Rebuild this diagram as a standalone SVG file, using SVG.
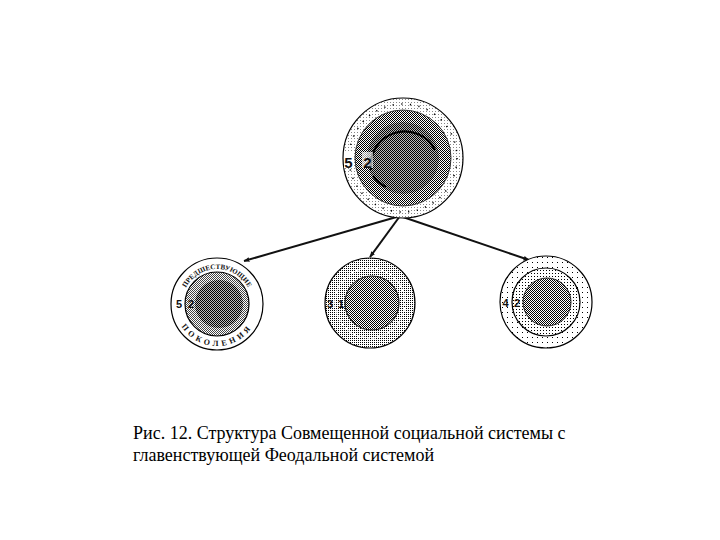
<svg xmlns="http://www.w3.org/2000/svg" width="720" height="540" viewBox="0 0 720 540">
<style>
.lbl{font-family:"Liberation Sans",Arial,sans-serif;font-weight:bold;fill:#111}
.arc{font-weight:bold;fill:#111}
.edge{stroke:#000;stroke-width:1.2}
.conn{stroke:#111;stroke-width:2;fill:none}
</style>
<defs>
<pattern id="chk" width="2" height="2" patternUnits="userSpaceOnUse"><rect width="2" height="2" fill="#fff"/><rect width="1" height="1" fill="#000"/><rect x="1" y="1" width="1" height="1" fill="#000"/></pattern>
<pattern id="chkD" width="2" height="2" patternUnits="userSpaceOnUse"><rect width="2" height="2" fill="#bbb"/><rect width="1" height="1" fill="#000"/><rect x="1" y="1" width="1" height="1" fill="#000"/></pattern>
<pattern id="chkG" width="2" height="2" patternUnits="userSpaceOnUse"><rect width="2" height="2" fill="#fff"/><rect width="1" height="1" fill="#444"/><rect x="1" y="1" width="1" height="1" fill="#444"/></pattern>
<pattern id="stip" width="2" height="2" patternUnits="userSpaceOnUse"><rect width="2" height="2" fill="#fff"/><rect width="1" height="1" fill="#000"/></pattern>
<pattern id="stipM" width="3" height="3" patternUnits="userSpaceOnUse"><rect width="3" height="3" fill="#fff"/><rect width="1" height="1" fill="#000"/></pattern>
<pattern id="stipL" width="3" height="3" patternUnits="userSpaceOnUse"><rect width="3" height="3" fill="#fff"/><rect width="1" height="1" fill="#888"/></pattern>
<pattern id="sparse" width="5" height="5" patternUnits="userSpaceOnUse"><rect width="5" height="5" fill="#fff"/><rect x="2" y="2" width="1" height="1" fill="#000"/></pattern>
<marker id="ah" viewBox="0 0 10 10" refX="9" refY="5" markerWidth="6" markerHeight="6" orient="auto" markerUnits="userSpaceOnUse"><path d="M0,1 L10,5 L0,9 Z" fill="#111"/></marker>
<path id="topArc" d="M 182,304 A 35 35 0 0 1 252,304"/>
<path id="botArc" d="M 175,304 A 42 42 0 0 0 259,304"/>
</defs>

<g id="connectors">
<line class="conn" x1="400" y1="216" x2="244" y2="261" marker-end="url(#ah)"/>
<line class="conn" x1="400" y1="216" x2="370" y2="257" marker-end="url(#ah)"/>
<line class="conn" x1="400" y1="216" x2="529" y2="260" marker-end="url(#ah)"/>
</g>

<g id="node-top">
<circle cx="403" cy="158" r="60" fill="url(#stipL)" class="edge"/>
<circle cx="403" cy="158" r="54" fill="none" stroke="#000" stroke-width="1.6" stroke-dasharray="1.2 7.5"/>
<circle cx="403" cy="158" r="48" fill="url(#chk)" stroke="#333" stroke-width="1"/>
<circle cx="403" cy="158" r="36" fill="url(#chkD)"/>
<path d="M 371,170 A 34 34 0 0 1 435,150" fill="none" stroke="#000" stroke-width="2.2"/>
<path d="M 373,176 A 34 34 0 0 0 386,187" fill="none" stroke="#000" stroke-width="2.2"/>
<rect x="344" y="152" width="10" height="16" fill="#fff"/>
<text class="lbl" x="348.5" y="168" font-size="15" text-anchor="middle">5</text>
<rect x="362" y="152" width="11" height="16" fill="#fff" opacity="0.6"/>
<text class="lbl" x="367.5" y="168" font-size="15" text-anchor="middle">2</text>
</g>

<g id="node-left">
<circle cx="217" cy="304" r="46" fill="#fff" class="edge"/>
<circle cx="217" cy="304" r="32" fill="url(#chkG)" class="edge"/>
<circle cx="219" cy="304" r="24" fill="url(#chkD)"/>
<text class="arc" font-family="'Liberation Serif','DejaVu Serif',serif" font-size="7"><textPath href="#topArc" startOffset="50%" text-anchor="middle">ПРЕДШЕСТВУЮЩИЕ</textPath></text>
<text class="arc" font-family="'Liberation Serif','DejaVu Serif',serif" font-size="8" letter-spacing="3.5"><textPath href="#botArc" startOffset="50%" text-anchor="middle">ПОКОЛЕНИЯ</textPath></text>
<rect x="175" y="297" width="8" height="12" fill="#fff"/>
<text class="lbl" x="179" y="308" font-size="11" text-anchor="middle">5</text>
<text class="lbl" x="191" y="308" font-size="11" text-anchor="middle">2</text>
</g>

<g id="node-middle">
<circle cx="370" cy="303" r="45" fill="url(#stip)" class="edge"/>
<circle cx="370" cy="303" r="35" fill="url(#stip)" stroke="#fff" stroke-width="1.5" stroke-dasharray="3 2"/>
<circle cx="372" cy="303" r="27" fill="url(#chk)" stroke="#222" stroke-width="1.2"/>
<text class="lbl" x="330" y="308" font-size="11" text-anchor="middle">3</text>
<text class="lbl" x="341" y="308" font-size="11" text-anchor="middle">1</text>
</g>

<g id="node-right">
<circle cx="546" cy="302" r="46" fill="url(#sparse)" class="edge"/>
<circle cx="546" cy="302" r="34" fill="url(#stipM)" class="edge"/>
<circle cx="547" cy="302" r="24" fill="url(#chk)" stroke="#222" stroke-width="1"/>
<text class="lbl" x="505.5" y="307" font-size="11" text-anchor="middle">4</text>
<text class="lbl" x="517" y="307" font-size="11" text-anchor="middle">2</text>
</g>

<g id="caption" font-family="'Liberation Serif','Times New Roman','DejaVu Serif',serif" font-size="18" fill="#000">
<text x="133" y="439">Рис. 12. Структура Совмещенной социальной системы с</text>
<text x="133" y="461">главенствующей Феодальной системой</text>
</g>
</svg>
